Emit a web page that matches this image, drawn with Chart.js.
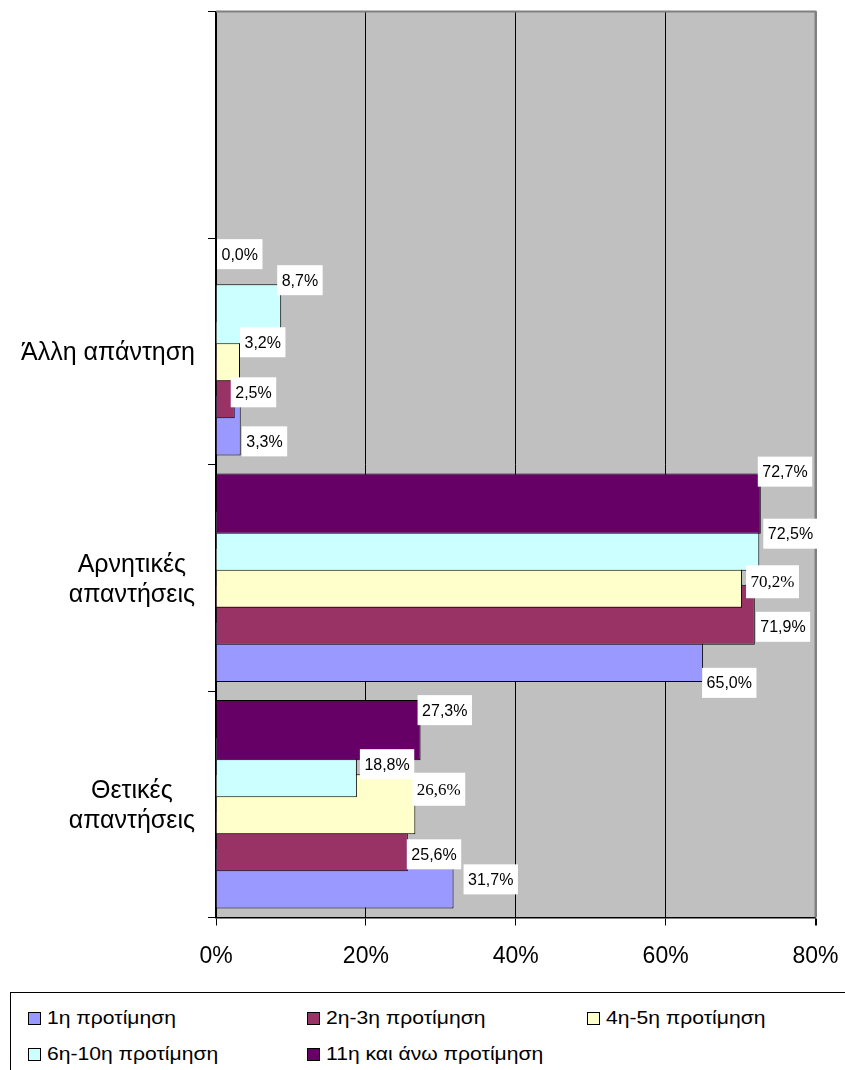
<!DOCTYPE html>
<html><head><meta charset="utf-8">
<script src="https://cdn.jsdelivr.net/npm/chart.js@4"></script>
<style>
html,body{margin:0;padding:0;background:#fff;overflow:hidden;}
#wrap{position:relative;width:845px;height:1070px;overflow:hidden;}
canvas{position:absolute;left:0;top:0;}
#legend{position:absolute;left:10px;top:992px;width:900px;height:120px;border:1px solid #000;box-sizing:border-box;}
.item{position:absolute;font:19px "Liberation Sans",Arial,sans-serif;color:#000;white-space:nowrap;line-height:20px;transform:scaleX(1.11);transform-origin:0 50%;}
.sw{position:absolute;width:13px;height:13px;border:1px solid #000;box-sizing:border-box;}
</style></head><body>
<div id="wrap"><canvas id="c" width="845" height="990"></canvas><div id="legend"></div></div>
<script>
// ---- data ----
const categories = [[''], ['Άλλη απάντηση'], ['Αρνητικές', 'απαντήσεις'], ['Θετικές', 'απαντήσεις']];
const seriesNames = ['1η προτίμηση', '2η-3η προτίμηση', '4η-5η προτίμηση', '6η-10η προτίμηση', '11η και άνω προτίμηση'];
const pref1 = [null, 3.3, 65.0, 31.7];
const pref2_3 = [null, 2.5, 71.9, 25.6];
const pref4_5 = [null, 3.2, 70.2, 26.6];
const pref6_10 = [null, 8.7, 72.5, 18.8];
const pref11plus = [null, 0.0, 72.7, 27.3];
const xTickValues = [0, 20, 40, 60, 80];
const xTickLabels = ['0%', '20%', '40%', '60%', '80%'];

// ---- styles ----
const seriesColors = ['#9999FF', '#993366', '#FFFFCC', '#CCFFFF', '#660066'];
// label box nudges [dx from bar end, dy from bar centre], per series / category
const labelNudge = [
  [null, [1, 16], [-1, 31], [10, 1]],
  [null, [-4, 4], [1, 12], [-1, 13]],
  [null, [0, -9], [4, 4], [-3, -15]],
  [null, [-4, -34], [4, -7], [3, -3]],
  [null, [1, -23], [-3, -32], [-3, -20]]
];
const labelSerif = [
  [false, false, false, false],
  [false, false, false, false],
  [false, false, true, true],
  [false, false, false, false],
  [false, false, false, false]
];
const SANS = '"Liberation Sans", Arial, sans-serif';
const SERIF = '"Liberation Serif", "Times New Roman", serif';

const seriesData = [pref1, pref2_3, pref4_5, pref6_10, pref11plus];

// datasets listed top-to-bottom inside a group (last series on top)
const order = [4, 3, 2, 1, 0];
const datasets = order.map(si => ({
  label: seriesNames[si],
  data: seriesData[si],
  backgroundColor: seriesColors[si],
  borderColor: '#000',
  borderWidth: 1,
  borderSkipped: 'start',
  barPercentage: 1.62,
  categoryPercentage: 0.818,
  _si: si
}));

const fmt = v => v.toFixed(1).replace('.', ',') + '%';

const plotDeco = {
  id: 'plotDeco',
  beforeDraw(chart) {
    const {ctx, chartArea: a} = chart;
    ctx.save();
    ctx.fillStyle = '#C0C0C0';
    ctx.fillRect(a.left, a.top, a.right - a.left, a.bottom - a.top);
    ctx.restore();
  },
  beforeDatasetsDraw(chart) {
    const {ctx, chartArea: a} = chart;
    ctx.save();
    ctx.strokeStyle = '#808080';
    ctx.lineWidth = 2;
    ctx.beginPath();
    ctx.moveTo(a.left, a.top);
    ctx.lineTo(a.right, a.top);
    ctx.lineTo(a.right, a.bottom);
    ctx.stroke();
    ctx.restore();
  },
  afterDatasetsDraw(chart) {
    const {ctx} = chart;
    ctx.save();
    chart.data.datasets.forEach((ds, di) => {
      const meta = chart.getDatasetMeta(di);
      const si = ds._si;
      meta.data.forEach((el, i) => {
        const v = ds.data[i];
        if (v === null || v === undefined) return;
        const nudge = labelNudge[si][i] || [0, 0];
        const serif = labelSerif[si][i];
        ctx.font = serif ? '17px ' + SERIF : '16px ' + SANS;
        const txt = fmt(v);
        const w = ctx.measureText(txt).width + 9;
        const h = serif ? 33 : 30;
        const left = el.x + nudge[0];
        const cy = el.y + nudge[1];
        ctx.fillStyle = '#FFFFFF';
        ctx.fillRect(left, cy - h / 2, w, h);
        ctx.fillStyle = '#000';
        ctx.textAlign = 'center';
        ctx.textBaseline = 'middle';
        ctx.fillText(txt, left + w / 2, cy + 1);
      });
    });
    ctx.restore();
  },
  afterDraw(chart) {
    const {ctx, chartArea: a} = chart;
    const ys = chart.scales.y;
    ctx.save();
    ctx.font = '25px ' + SANS;
    ctx.fillStyle = '#000';
    ctx.textAlign = 'center';
    ctx.textBaseline = 'middle';
    const rightEdge = a.left - 21;
    categories.forEach((lines, i) => {
      const cy = ys.getPixelForValue(i) + 2;
      const bw = Math.max(...lines.map(l => ctx.measureText(l).width));
      const cx = rightEdge - bw / 2;
      lines.forEach((l, j) => {
        ctx.fillText(l, cx, cy + (j - (lines.length - 1) / 2) * 30);
      });
    });
    ctx.restore();
  }
};

new Chart(document.getElementById('c'), {
  type: 'bar',
  data: {labels: categories, datasets},
  plugins: [plotDeco],
  options: {
    indexAxis: 'y',
    responsive: false,
    animation: false,
    devicePixelRatio: 1,
    layout: {padding: {top: 11.5, right: 29.5, left: 0, bottom: 0}},
    plugins: {legend: {display: false}, tooltip: {enabled: false}},
    scales: {
      x: {
        type: 'linear', min: 0, max: 80,
        afterBuildTicks: s => { s.ticks = xTickValues.map(v => ({value: v})); },
        afterFit: s => { s.height = 72.5; s.paddingLeft = 0; s.paddingRight = 0; },
        ticks: {
          callback: (v, i) => xTickLabels[i],
          font: {family: 'Liberation Sans', size: 23},
          color: '#000', padding: 17, maxRotation: 0, autoSkip: false
        },
        grid: {
          color: c => c.tick && c.tick.value === 0 ? 'rgba(0,0,0,0)' : (c.tick && c.tick.value === 80 ? '#808080' : '#000'),
          lineWidth: c => c.tick && c.tick.value === 80 ? 2 : 1,
          tickColor: '#000', tickLength: 8, drawTicks: true
        },
        border: {display: true, color: '#000', width: 1.5}
      },
      y: {
        type: 'category',
        afterFit: s => { s.width = 216; s.paddingTop = 0; s.paddingBottom = 0; },
        ticks: {display: false},
        grid: {offset: true, drawOnChartArea: false, drawTicks: true, tickLength: 8, tickColor: '#000', color: '#000'},
        border: {display: true, color: '#000', width: 2}
      }
    }
  }
});

// ---- HTML legend ----
const legendEl = document.getElementById('legend');
const colX = [28, 307, 587];
const rowY = [1012, 1048];
seriesNames.forEach((name, si) => {
  const col = si % 3, row = Math.floor(si / 3);
  const sw = document.createElement('div');
  sw.className = 'sw';
  sw.style.background = seriesColors[si];
  sw.style.left = (colX[col] - 11) + 'px';
  sw.style.top = (rowY[row] - 993) + 'px';
  legendEl.appendChild(sw);
  const t = document.createElement('div');
  t.className = 'item';
  t.textContent = name;
  t.style.left = (colX[col] + 19 - 11) + 'px';
  t.style.top = (rowY[row] + 6 - 10 - 993) + 'px';
  legendEl.appendChild(t);
});
</script>
</body></html>
